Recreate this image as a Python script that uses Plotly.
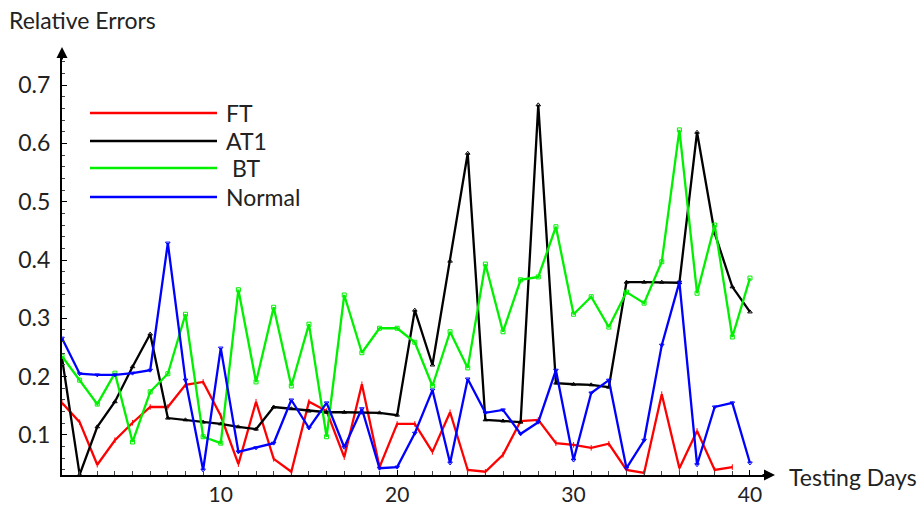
import plotly.graph_objects as go

days = list(range(1, 41))

ft = [0.155, 0.122, 0.049, 0.091, 0.121, 0.148, 0.148, 0.186, 0.191, 0.133,
      0.050, 0.157, 0.059, 0.037, 0.157, 0.141, 0.062, 0.187, 0.045, 0.119,
      0.119, 0.071, 0.139, 0.040, 0.037, 0.066, 0.124, 0.126, 0.086, 0.083,
      0.078, 0.085, 0.040, 0.035, 0.170, 0.043, 0.107, 0.040, 0.045]

at1 = [0.232, 0.032, 0.114, 0.157, 0.217, 0.273, 0.129, 0.126, 0.122, 0.119,
       0.114, 0.110, 0.148, 0.145, 0.141, 0.139, 0.139, 0.138, 0.138, 0.134,
       0.314, 0.220, 0.398, 0.583, 0.126, 0.124, 0.122, 0.666, 0.189, 0.187,
       0.186, 0.182, 0.362, 0.362, 0.362, 0.361, 0.619, 0.446, 0.354, 0.311]

bt = [0.235, 0.194, 0.153, 0.206, 0.088, 0.174, 0.205, 0.307, 0.097, 0.086,
      0.349, 0.191, 0.319, 0.184, 0.290, 0.097, 0.340, 0.241, 0.283, 0.283,
      0.259, 0.184, 0.277, 0.215, 0.393, 0.277, 0.366, 0.371, 0.457, 0.307,
      0.337, 0.285, 0.345, 0.326, 0.397, 0.623, 0.343, 0.460, 0.268, 0.369]

normal = [0.266, 0.205, 0.203, 0.203, 0.206, 0.211, 0.429, 0.194, 0.040, 0.249,
          0.071, 0.078, 0.086, 0.160, 0.112, 0.155, 0.079, 0.145, 0.043, 0.045,
          0.103, 0.177, 0.052, 0.196, 0.138, 0.143, 0.102, 0.122, 0.211, 0.057,
          0.172, 0.194, 0.043, 0.091, 0.254, 0.362, 0.049, 0.148, 0.155, 0.052]

series_names = ["FT", "AT1", " BT", "Normal"]
series_values = [ft, at1, bt, normal]
colors = ["#ff0000", "#000000", "#00f000", "#0000ff"]
marker_symbols = ["line-ns-open", "triangle-up-open", "square-open", "triangle-down-open"]

x_ticks = [10, 20, 30, 40]
y_ticks = [0.1, 0.2, 0.3, 0.4, 0.5, 0.6, 0.7]
y_tick_labels = ["0.1", "0.2", "0.3", "0.4", "0.5", "0.6", "0.7"]

FONT = "Lato"
FS = 23
W, H = 920, 508
ML, MR, MT, MB = 62, 155, 55, 33
PW, PH = W - ML - MR, H - MT - MB

fig = go.Figure()
for name, vals, col, sym in zip(series_names, series_values, colors, marker_symbols):
    fig.add_trace(go.Scatter(
        x=days[:len(vals)], y=vals, name=name, mode="lines+markers",
        line=dict(color=col, width=2.3),
        marker=dict(symbol=sym, size=4, color=col, line=dict(width=1, color=col)),
        showlegend=False,
    ))

# hand-drawn style legend
row_px = [113, 141, 168, 197]
for name, col, ypx in zip(series_names, colors, row_px):
    yp = (MT + PH - ypx) / PH
    fig.add_shape(type="line", xref="paper", yref="paper",
                  x0=(90 - ML) / PW, x1=(217 - ML) / PW, y0=yp, y1=yp,
                  line=dict(color=col, width=2.3))
    fig.add_annotation(xref="paper", yref="paper", x=(224 - ML) / PW, y=yp,
                       text=name.replace(" ", "&nbsp;"), showarrow=False,
                       xanchor="left", yanchor="middle",
                       font=dict(family=FONT, size=FS, color="#222"))

# axis titles
fig.add_annotation(xref="paper", yref="paper", x=(7 - ML) / PW, y=(MT + PH - 20) / PH,
                   text="Relative Errors", showarrow=False, xanchor="left", yanchor="middle",
                   font=dict(family=FONT, size=FS, color="#222"))
fig.add_annotation(xref="paper", yref="paper", x=(787 - ML) / PW, y=(MT + PH - 477) / PH,
                   text="Testing Days", showarrow=False, xanchor="left", yanchor="middle",
                   font=dict(family=FONT, size=FS, color="#222"))

# axis arrowheads
fig.add_annotation(xref="paper", yref="paper", x=1 + 10 / PW, y=0, ax=-14, ay=0,
                   text="", showarrow=True, arrowhead=2, arrowsize=1.1, arrowwidth=2,
                   arrowcolor="#000")
fig.add_annotation(xref="paper", yref="paper", x=0, y=1 + 8 / PH, ax=0, ay=14,
                   text="", showarrow=True, arrowhead=2, arrowsize=1.1, arrowwidth=2,
                   arrowcolor="#000")

fig.update_layout(
    width=W, height=H,
    margin=dict(l=ML, r=MR, t=MT, b=MB, autoexpand=False),
    paper_bgcolor="white", plot_bgcolor="white",
    font=dict(family=FONT, size=FS, color="#222"),
)
fig.update_xaxes(
    range=[1, 1 + PW / 17.64], showgrid=False, zeroline=False, automargin=False,
    showline=True, linecolor="#000", linewidth=2,
    tickmode="array", tickvals=x_ticks, ticktext=[str(v) for v in x_ticks],
    ticks="inside", ticklen=5, tickwidth=1, tickcolor="#000",
    minor=dict(dtick=1, ticks="inside", ticklen=4, tickcolor="#444", showgrid=False),
    tickfont=dict(family=FONT, size=21, color="#222"),
    ticklabelstandoff=0,
)
fig.update_yaxes(
    range=[0.0314, 0.0314 + PH / 583.3], showgrid=False, zeroline=False, automargin=False,
    showline=True, linecolor="#000", linewidth=2,
    tickmode="array", tickvals=y_ticks, ticktext=y_tick_labels,
    ticks="inside", ticklen=5, tickwidth=1, tickcolor="#000",
    minor=dict(dtick=0.02, tick0=0, ticks="inside", ticklen=3, tickcolor="#444", showgrid=False),
    tickfont=dict(family=FONT, size=FS, color="#222"),
    ticklabelstandoff=5,
)

fig.write_html("out.html")
